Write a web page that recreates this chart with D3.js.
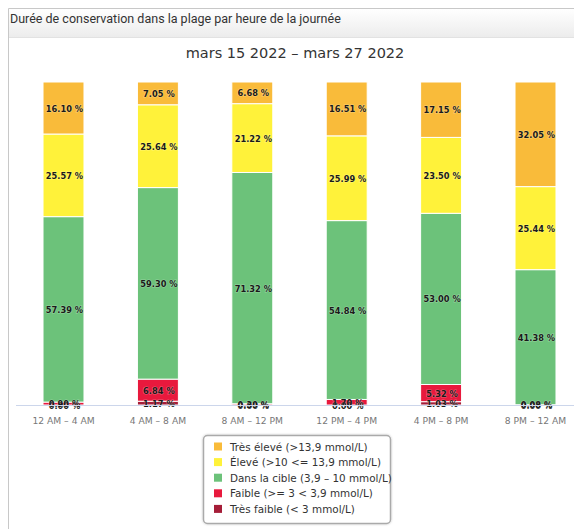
<!DOCTYPE html>
<html>
<head>
<meta charset="utf-8">
<script src="https://cdn.jsdelivr.net/npm/d3@7"></script>
<style>
  body { margin: 0; background: #fff; }
  svg { display: block; }
</style>
</head>
<body>
<div id="chart"></div>
<script>
// data
var periods = ["12 AM – 4 AM", "4 AM – 8 AM", "8 AM – 12 PM", "12 PM – 4 PM", "4 PM – 8 PM", "8 PM – 12 AM"];
var tresFaible = [0.00, 1.17, 0.00, 0.00, 1.03, 0.00];
var faible     = [0.90, 6.84, 0.39, 1.70, 5.32, 0.08];
var cible      = [57.39, 59.30, 71.32, 54.84, 53.00, 41.38];
var eleve      = [25.57, 25.64, 21.22, 25.99, 23.50, 25.44];
var tresEleve  = [16.10, 7.05, 6.68, 16.51, 17.15, 32.05];

var seriesKeys = ["tresFaible", "faible", "cible", "eleve", "tresEleve"];
var seriesNames = {
  tresEleve: "Très élevé (>13,9 mmol/L)",
  eleve: "Élevé (>10 <= 13,9 mmol/L)",
  cible: "Dans la cible (3,9 – 10 mmol/L)",
  faible: "Faible (>= 3 < 3,9 mmol/L)",
  tresFaible: "Très faible (< 3 mmol/L)"
};
var seriesColors = {
  tresEleve: "#f9bb3a",
  eleve: "#fff23a",
  cible: "#6cc27a",
  faible: "#e8193d",
  tresFaible: "#a51d38"
};
var legendOrder = ["tresEleve", "eleve", "cible", "faible", "tresFaible"];

var rows = periods.map(function(p, i) {
  return {period: p, tresFaible: tresFaible[i], faible: faible[i], cible: cible[i], eleve: eleve[i], tresEleve: tresEleve[i]};
});

var W = 574, H = 529;
var svg = d3.select("#chart").append("svg").attr("width", W).attr("height", H);

// panel header
var defs = svg.append("defs");
var grad = defs.append("linearGradient").attr("id", "hdr").attr("x1", 0).attr("y1", 0).attr("x2", 0).attr("y2", 1);
grad.append("stop").attr("offset", "0%").attr("stop-color", "#ffffff");
grad.append("stop").attr("offset", "100%").attr("stop-color", "#ececec");
var shadow = defs.append("filter").attr("id", "shadow").attr("x", "-10%").attr("y", "-10%").attr("width", "120%").attr("height", "120%");
shadow.append("feDropShadow").attr("dx", 0).attr("dy", 0).attr("stdDeviation", 1).attr("flood-color", "#000").attr("flood-opacity", 0.25);

svg.append("rect").attr("x", 8.5).attr("y", 8.5).attr("width", W).attr("height", 29)
  .attr("fill", "url(#hdr)").attr("stroke", "none");
svg.append("line").attr("x1", 8.5).attr("x2", W).attr("y1", 37.5).attr("y2", 37.5).attr("stroke", "#e2e2e2");
svg.append("line").attr("x1", 8.5).attr("x2", W).attr("y1", 8.5).attr("y2", 8.5).attr("stroke", "#c8c8c8");
svg.append("line").attr("x1", 8.5).attr("x2", 8.5).attr("y1", 8.5).attr("y2", H).attr("stroke", "#c8c8c8");
svg.append("text").attr("x", 10).attr("y", 23)
  .style("font-family", "Roboto, sans-serif").style("font-size", "12.5px").attr("fill", "#333")
  .text("Durée de conservation dans la plage par heure de la journée");

svg.append("text").attr("x", 295).attr("y", 58).attr("text-anchor", "middle")
  .style("font-family", "'DejaVu Sans', sans-serif").style("font-size", "14.5px").attr("fill", "#333")
  .text("mars 15 2022 – mars 27 2022");

// scales
var plotTop = 82, plotBottom = 405;
var x = d3.scaleBand().domain(periods).range([16.3, 582.7]).paddingInner(0.566).paddingOuter(0.283);
var y = d3.scaleLinear().domain([0, 1]).range([plotBottom, plotTop]);

var stack = d3.stack().keys(seriesKeys).offset(d3.stackOffsetExpand);
var series = stack(rows);

var g = svg.append("g");
series.forEach(function(s) {
  var key = s.key;
  g.selectAll(".bar-" + key).data(s).enter().append("rect")
    .attr("class", "bar-" + key)
    .attr("x", function(d) { return x(d.data.period); })
    .attr("width", x.bandwidth())
    .attr("y", function(d) { return y(d[1]); })
    .attr("height", function(d) { return Math.max(0, y(d[0]) - y(d[1])); })
    .attr("fill", seriesColors[key])
    .attr("stroke", "#fff").attr("stroke-width", 1);
});

// axis
var axis = svg.append("g").attr("transform", "translate(0," + plotBottom + ")")
  .call(d3.axisBottom(x).tickSize(0).tickPadding(12));
axis.select(".domain").attr("stroke", "#ccd6eb").attr("d", "M16,0.5H574");
axis.selectAll("text").attr("fill", "#777")
  .style("font-family", "'DejaVu Sans', sans-serif").style("font-size", "9.2px");

// labels
series.forEach(function(s) {
  var key = s.key;
  g.selectAll(".lbl-" + key).data(s).enter().append("text")
    .attr("x", function(d) { return x(d.data.period) + x.bandwidth() / 2 + 1; })
    .attr("y", function(d) { return (y(d[0]) + y(d[1])) / 2 + 3.5; })
    .attr("text-anchor", "middle")
    .style("font-family", "'DejaVu Sans Condensed', 'DejaVu Sans', sans-serif")
    .style("font-size", "9.2px").style("font-weight", "bold")
    .attr("fill", "#1a1a1a")
    .attr("stroke", "rgba(255,255,255,0.3)").attr("stroke-width", 1.2)
    .style("paint-order", "stroke")
    .text(function(d) { return d.data[key].toFixed(2) + " %"; });
});

// legend
var lg = svg.append("g").attr("transform", "translate(203,435)");
lg.append("rect").attr("x", 0.5).attr("y", 0.5).attr("width", 187).attr("height", 88)
  .attr("rx", 4).attr("fill", "#fff").attr("stroke", "#aaa").attr("stroke-width", 1.5)
  .attr("filter", "url(#shadow)");
legendOrder.forEach(function(key, i) {
  var row = lg.append("g").attr("transform", "translate(0," + (11.5 + i * 15.6) + ")");
  row.append("rect").attr("x", 11).attr("y", -4).attr("width", 8).attr("height", 8).attr("fill", seriesColors[key]);
  row.append("text").attr("x", 27).attr("y", 4)
    .style("font-family", "'DejaVu Sans', sans-serif").style("font-size", "10.4px").attr("fill", "#333")
    .text(seriesNames[key]);
});
</script>
</body>
</html>
